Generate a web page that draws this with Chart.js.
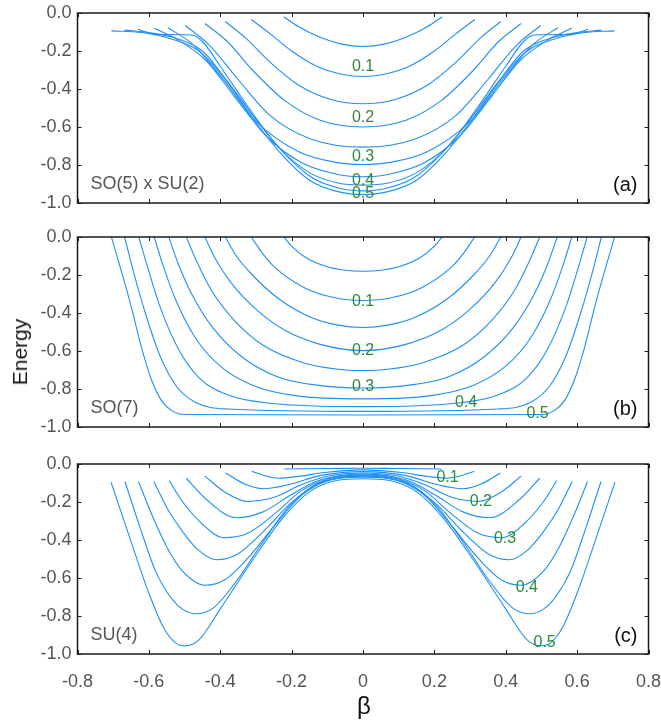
<!DOCTYPE html>
<html>
<head>
<meta charset="utf-8">
<script src="https://cdn.jsdelivr.net/npm/chart.js@4.4.1/dist/chart.umd.min.js"></script>
<style>
  html, body { margin: 0; padding: 0; background: #fff; }
  body { width: 661px; height: 720px; position: relative; overflow: hidden;
         font-family: 'Liberation Sans', Arial, sans-serif; }
  .panel { position: absolute; left: 0; width: 661px; }
  .panel canvas { display: block; }
  #yTitle { position: absolute; left: 20px; top: 352px; transform: translate(-50%, -50%) rotate(-90deg);
            font-size: 21px; color: #111; white-space: nowrap; }
  #xTitle { position: absolute; left: 364px; top: 706px; transform: translate(-50%, -50%);
            font-size: 24px; color: #111; }
</style>
</head>
<body>
<div class="panel" style="top:0"><canvas id="panelA" width="661" height="215"></canvas></div>
<div class="panel" style="top:224px"><canvas id="panelB" width="661" height="215"></canvas></div>
<div class="panel" style="top:451px"><canvas id="panelC" width="661" height="269"></canvas></div>
<div id="yTitle">Energy</div>
<div id="xTitle">β</div>
<script>
'use strict';

// ─── Axes ────────────────────────────────────────────────────────────────────
const BETA_TICKS    = [-0.8, -0.6, -0.4, -0.2, 0, 0.2, 0.4, 0.6, 0.8];
const BETA_LABELS   = ['-0.8', '-0.6', '-0.4', '-0.2', '0', '0.2', '0.4', '0.6', '0.8'];
const ENERGY_TICKS  = [-1.0, -0.8, -0.6, -0.4, -0.2, 0.0];
const ENERGY_LABELS = ['-1.0', '-0.8', '-0.6', '-0.4', '-0.2', '0.0'];

// ─── Energy curves, one per coupling 0.05 … 0.5 ─────────────────────────────
// Each entry is the β ≤ 0 half as [β, E]; the curves are even in β.
const SO5_SU2 = [
  [[-0.222, -0.020], [-0.18, -0.072], [-0.12, -0.128], [-0.06, -0.164], [0, -0.176]],
  [[-0.313, -0.034], [-0.26, -0.110], [-0.20, -0.200], [-0.13, -0.280], [-0.06, -0.322], [0, -0.334]],
  [[-0.386, -0.045], [-0.33, -0.130], [-0.26, -0.260], [-0.18, -0.380], [-0.09, -0.455], [0, -0.478]],
  [[-0.443, -0.055], [-0.38, -0.150], [-0.31, -0.300], [-0.22, -0.460], [-0.12, -0.565], [0, -0.600]],
  [[-0.498, -0.066], [-0.43, -0.170], [-0.35, -0.350], [-0.26, -0.540], [-0.15, -0.660], [0, -0.706]],
  [[-0.546, -0.078], [-0.48, -0.160], [-0.40, -0.330], [-0.30, -0.570], [-0.18, -0.730], [-0.08, -0.785], [0, -0.797]],
  [[-0.585, -0.080], [-0.52, -0.140], [-0.44, -0.250], [-0.36, -0.440], [-0.27, -0.650], [-0.17, -0.790], [-0.07, -0.850], [0, -0.862]],
  [[-0.630, -0.086], [-0.584, -0.112], [-0.48, -0.116], [-0.45, -0.150], [-0.40, -0.280], [-0.32, -0.500], [-0.24, -0.700],
   [-0.15, -0.840], [-0.07, -0.895], [0, -0.906]],
  [[-0.668, -0.090], [-0.60, -0.103], [-0.52, -0.135], [-0.45, -0.200], [-0.38, -0.360], [-0.30, -0.560], [-0.22, -0.740],
   [-0.14, -0.870], [-0.06, -0.925], [0, -0.936]],
  [[-0.705, -0.094], [-0.62, -0.103], [-0.54, -0.135], [-0.46, -0.200], [-0.39, -0.340], [-0.31, -0.550], [-0.23, -0.740],
   [-0.15, -0.880], [-0.07, -0.940], [0, -0.956]],
];

const SO7 = [
  [[-0.222, 0], [-0.20, -0.048], [-0.163, -0.105], [-0.10, -0.157], [-0.05, -0.175], [0, -0.180]],
  [[-0.313, 0], [-0.28, -0.090], [-0.247, -0.160], [-0.163, -0.268], [-0.079, -0.320], [0, -0.334]],
  [[-0.386, 0], [-0.355, -0.100], [-0.31, -0.200], [-0.24, -0.320], [-0.15, -0.420], [-0.07, -0.464], [0, -0.476]],
  [[-0.443, 0], [-0.415, -0.110], [-0.37, -0.240], [-0.30, -0.380], [-0.22, -0.490], [-0.12, -0.565], [0, -0.598]],
  [[-0.495, 0], [-0.468, -0.120], [-0.425, -0.280], [-0.36, -0.440], [-0.28, -0.570], [-0.17, -0.660], [-0.07, -0.696], [0, -0.703]],
  [[-0.544, 0], [-0.52, -0.130], [-0.48, -0.300], [-0.42, -0.480], [-0.34, -0.630], [-0.24, -0.735], [-0.12, -0.782], [0, -0.795]],
  [[-0.585, 0], [-0.562, -0.140], [-0.525, -0.330], [-0.47, -0.530], [-0.40, -0.680], [-0.31, -0.780], [-0.19, -0.835], [0, -0.852]],
  [[-0.628, 0], [-0.605, -0.150], [-0.57, -0.360], [-0.52, -0.580], [-0.46, -0.740], [-0.38, -0.830], [-0.26, -0.875], [0, -0.893]],
  [[-0.668, 0], [-0.645, -0.170], [-0.61, -0.400], [-0.57, -0.620], [-0.525, -0.780], [-0.47, -0.870], [-0.38, -0.905], [0, -0.918]],
  [[-0.705, 0], [-0.677, -0.180], [-0.649, -0.370], [-0.621, -0.580], [-0.593, -0.750], [-0.565, -0.860], [-0.535, -0.915],
   [-0.50, -0.934], [0, -0.937]],
];

const SU4 = [
  [[-0.220, -0.026], [-0.10, -0.024], [0, -0.022]],
  [[-0.312, -0.038], [-0.269, -0.064], [-0.237, -0.075], [-0.183, -0.066], [-0.108, -0.045], [0, -0.031]],
  [[-0.385, -0.047], [-0.333, -0.104], [-0.28, -0.130], [-0.204, -0.107], [-0.118, -0.060], [0, -0.040]],
  [[-0.443, -0.064], [-0.387, -0.148], [-0.323, -0.197], [-0.247, -0.174], [-0.172, -0.108], [-0.097, -0.063], [0, -0.047]],
  [[-0.495, -0.075], [-0.441, -0.183], [-0.355, -0.283], [-0.28, -0.252], [-0.204, -0.165], [-0.129, -0.090], [-0.06, -0.060],
   [0, -0.052]],
  [[-0.543, -0.087], [-0.505, -0.200], [-0.452, -0.313], [-0.389, -0.388], [-0.323, -0.365], [-0.247, -0.261], [-0.172, -0.140],
   [-0.097, -0.078], [0, -0.057]],
  [[-0.586, -0.092], [-0.548, -0.235], [-0.505, -0.357], [-0.462, -0.452], [-0.409, -0.504], [-0.355, -0.478], [-0.28, -0.357],
   [-0.204, -0.209], [-0.129, -0.106], [-0.06, -0.070], [0, -0.061]],
  [[-0.629, -0.092], [-0.591, -0.270], [-0.548, -0.443], [-0.505, -0.565], [-0.443, -0.638], [-0.387, -0.609], [-0.323, -0.496],
   [-0.247, -0.322], [-0.172, -0.165], [-0.097, -0.087], [0, -0.064]],
  [[-0.667, -0.092], [-0.624, -0.339], [-0.581, -0.565], [-0.538, -0.704], [-0.505, -0.765], [-0.468, -0.788], [-0.419, -0.757],
   [-0.355, -0.617], [-0.28, -0.409], [-0.204, -0.217], [-0.129, -0.104], [-0.065, -0.075], [0, -0.070]],
  [[-0.706, -0.096], [-0.656, -0.374], [-0.602, -0.670], [-0.559, -0.861], [-0.527, -0.939], [-0.50, -0.957], [-0.462, -0.930],
   [-0.398, -0.757], [-0.312, -0.513], [-0.226, -0.287], [-0.151, -0.148], [-0.075, -0.087], [0, -0.078]],
];

// ─── Coupling tags (text, and where each sits in β/E) ────────────────────────
const COUPLING_TAGS = ['0.1', '0.2', '0.3', '0.4', '0.5'];
const TAG_AT_A = [[0, -0.280], [0, -0.550], [0, -0.755], [0, -0.882], [0, -0.950]];
const TAG_AT_B = [[0, -0.341], [0, -0.600], [0, -0.788], [0.289, -0.872], [0.489, -0.932]];
const TAG_AT_C = [[0.237, -0.070], [0.330, -0.200], [0.398, -0.391], [0.459, -0.649], [0.509, -0.939]];

// ─── Styles ──────────────────────────────────────────────────────────────────
const LINE_COLOR = '#1f8ff7';
const TAG_COLOR  = '#2f8a36';
const TICK_COLOR = '#555';
const FONT       = "'Liberation Sans', Arial, sans-serif";

// Even extension of a β ≤ 0 half curve.
function fullCurve(half) {
  const left  = half.map(([x, y]) => ({ x, y }));
  const right = half.slice(0, -1).reverse().map(([x, y]) => ({ x: -x, y }));
  return left.concat(right);
}

// Box, inward ticks on all four sides, panel names and coupling tags.
const panelDecor = {
  id: 'panelDecor',
  afterDatasetsDraw(chart, args, opts) {
    const { ctx, chartArea: a, scales: { x, y } } = chart;
    const TL = 4;
    ctx.save();

    ctx.strokeStyle = '#1a1a1a';
    ctx.lineWidth = 1;
    ctx.beginPath();
    x.ticks.forEach((t, i) => {
      const px = Math.round(x.getPixelForTick(i)) + 0.5;
      ctx.moveTo(px, a.top);    ctx.lineTo(px, a.top + TL);
      ctx.moveTo(px, a.bottom); ctx.lineTo(px, a.bottom - TL);
    });
    y.ticks.forEach((t, i) => {
      const py = Math.round(y.getPixelForTick(i)) + 0.5;
      ctx.moveTo(a.left, py);  ctx.lineTo(a.left + TL, py);
      ctx.moveTo(a.right, py); ctx.lineTo(a.right - TL, py);
    });
    ctx.stroke();

    ctx.lineWidth = 1.5;
    ctx.strokeRect(a.left, a.top, a.right - a.left, a.bottom - a.top);

    ctx.font = `18px ${FONT}`;
    ctx.textBaseline = 'middle';
    ctx.fillStyle = '#555';
    ctx.textAlign = 'left';
    ctx.fillText(opts.group, a.left + 13, a.bottom - 19);
    ctx.font = `20px ${FONT}`;
    ctx.fillStyle = '#111';
    ctx.textAlign = 'right';
    ctx.fillText(opts.tag, a.right - 11, a.bottom - 18);

    ctx.font = `16px ${FONT}`;
    ctx.fillStyle = TAG_COLOR;
    ctx.textAlign = 'center';
    opts.tags.forEach(([bx, e], i) => {
      ctx.fillText(COUPLING_TAGS[i], x.getPixelForValue(bx), y.getPixelForValue(e));
    });
    ctx.restore();
  },
};

// Axis sizes are pinned, and tick-label overhang is ignored, so that the
// three plot boxes line up exactly under one another.
function drawPanel(canvasId, curves, group, tag, tags, bottomAxis) {
  const ctx = document.getElementById(canvasId).getContext('2d');
  return new Chart(ctx, {
    type: 'line',
    data: {
      datasets: curves.map(c => ({
        data: fullCurve(c),
        borderColor: LINE_COLOR,
        borderWidth: 1.1,
        pointRadius: 0,
        fill: false,
        cubicInterpolationMode: 'monotone',
      })),
    },
    options: {
      responsive: false,
      devicePixelRatio: 1,
      animation: false,
      layout: { padding: { top: 13, right: 12.5, bottom: 0, left: 0 } },
      plugins: {
        legend: { display: false },
        tooltip: { enabled: false },
        panelDecor: { group, tag, tags },
      },
      scales: {
        x: {
          type: 'linear', min: -0.8, max: 0.8,
          afterBuildTicks: s => { s.ticks = BETA_TICKS.map(v => ({ value: v })); },
          afterFit: s => {
            s.height = bottomAxis ? 66 : 12;
            s.paddingLeft = 0; s.paddingRight = 0;
          },
          grid: { display: false, drawTicks: false },
          border: { display: false },
          ticks: {
            display: bottomAxis, padding: 17, color: TICK_COLOR,
            font: { size: 18, family: FONT },
            maxRotation: 0, autoSkip: false,
            callback: (v, i) => BETA_LABELS[i],
          },
        },
        y: {
          type: 'linear', min: -1, max: 0,
          afterBuildTicks: s => { s.ticks = ENERGY_TICKS.map(v => ({ value: v })); },
          afterFit: s => {
            s.width = 77.5;
            s.paddingTop = 0; s.paddingBottom = 0;
          },
          grid: { display: false, drawTicks: false },
          border: { display: false },
          ticks: {
            padding: 6, color: TICK_COLOR,
            font: { size: 18, family: FONT },
            callback: (v, i) => ENERGY_LABELS[i],
          },
        },
      },
    },
    plugins: [panelDecor],
  });
}

drawPanel('panelA', SO5_SU2, 'SO(5) x SU(2)', '(a)', TAG_AT_A, false);
drawPanel('panelB', SO7,     'SO(7)',         '(b)', TAG_AT_B, false);
drawPanel('panelC', SU4,     'SU(4)',         '(c)', TAG_AT_C, true);
</script>
</body>
</html>
